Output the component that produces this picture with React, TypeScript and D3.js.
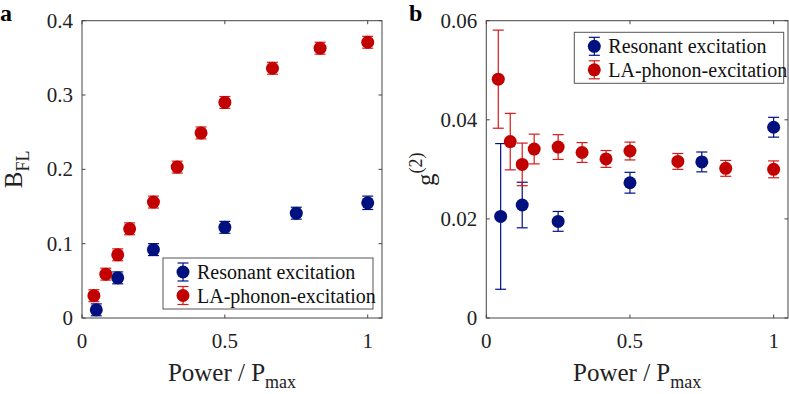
import { useEffect, useRef } from 'react';
import * as d3 from 'd3';

// x positions (Power / Pmax)
const laPower = [1 / 24, 1 / 12, 1 / 8, 1 / 6, 1 / 4, 1 / 3, 5 / 12, 1 / 2, 2 / 3, 5 / 6, 1];
const resPower = [0.05, 0.125, 0.25, 0.5, 0.75, 1];

// panel a: B_FL
const laBfl = [0.030, 0.059, 0.085, 0.120, 0.156, 0.203, 0.249, 0.290, 0.336, 0.363, 0.371];
const laBflErr = [0.008, 0.008, 0.008, 0.008, 0.008, 0.008, 0.008, 0.008, 0.008, 0.008, 0.008];
const resBfl = [0.011, 0.054, 0.092, 0.122, 0.141, 0.155];
const resBflErr = [0.008, 0.008, 0.008, 0.008, 0.008, 0.009];

// panel b: g2
const laG2 = [0.0482, 0.0356, 0.0310, 0.0341, 0.0345, 0.0334, 0.0321, 0.0337, 0.0316, 0.0302, 0.0300];
const laG2Err = [0.0099, 0.0057, 0.0043, 0.0030, 0.0025, 0.0020, 0.0017, 0.0018, 0.0016, 0.0016, 0.0017];
const resG2 = [0.0205, 0.0228, 0.0195, 0.0273, 0.0315, 0.0385];
const resG2Err = [0.0147, 0.0046, 0.0020, 0.0021, 0.0020, 0.0020];

const xTicks = [0, 0.5, 1];
const yTicksA = [0, 0.1, 0.2, 0.3, 0.4];
const yTicksB = [0, 0.02, 0.04, 0.06];
const legendNames = ['Resonant excitation', 'LA-phonon-excitation'];

const BLUE = '#00107f';
const RED = '#c30000';
const RED_BAR = '#d41a1a';
const FONT = 'Liberation Serif, DejaVu Serif, serif';

type Series = { x: number[]; y: number[]; e: number[]; color: string; bar: string };

function drawPanel(
  svg: d3.Selection<SVGSVGElement, unknown, null, undefined>,
  opts: {
    left: number; right: number; top: number; bottom: number;
    yMax: number; yTicks: number[]; yFmt: (v: number) => string;
    series: Series[]; letter: string; letterX: number;
    legend: { x: number; y: number; w: number; h: number };
    yLabel: 'B' | 'g';
  }
) {
  const x = d3.scaleLinear().domain([0, 1.05]).range([opts.left, opts.right]);
  const y = d3.scaleLinear().domain([0, opts.yMax]).range([opts.bottom, opts.top]);
  const g = svg.append('g').style('font-family', FONT);
  const axisColor = '#444';

  // box
  g.append('rect')
    .attr('x', opts.left).attr('y', opts.top)
    .attr('width', opts.right - opts.left).attr('height', opts.bottom - opts.top)
    .attr('fill', 'none').attr('stroke', axisColor).attr('stroke-width', 1);

  const tl = 3.5;
  xTicks.forEach(t => {
    const px = x(t);
    g.append('line').attr('x1', px).attr('x2', px).attr('y1', opts.bottom).attr('y2', opts.bottom - tl).attr('stroke', axisColor);
    g.append('line').attr('x1', px).attr('x2', px).attr('y1', opts.top).attr('y2', opts.top + tl).attr('stroke', axisColor);
    g.append('text').attr('x', px).attr('y', opts.bottom + 30)
      .attr('text-anchor', 'middle').attr('font-size', 21).attr('fill', '#222')
      .text(d3.format('~g')(t));
  });
  opts.yTicks.forEach(t => {
    const py = y(t);
    g.append('line').attr('x1', opts.left).attr('x2', opts.left + tl).attr('y1', py).attr('y2', py).attr('stroke', axisColor);
    g.append('line').attr('x1', opts.right).attr('x2', opts.right - tl).attr('y1', py).attr('y2', py).attr('stroke', axisColor);
    g.append('text').attr('x', opts.left - 9).attr('y', py + 7)
      .attr('text-anchor', 'end').attr('font-size', 21).attr('fill', '#222')
      .text(opts.yFmt(t));
  });

  // x label
  const xl = g.append('text').attr('x', (opts.left + opts.right) / 2).attr('y', 381)
    .attr('text-anchor', 'middle').attr('font-size', 25).attr('fill', '#222');
  xl.append('tspan').text('Power / P');
  xl.append('tspan').attr('font-size', 18).attr('dy', 7).text('max');

  // y label
  const cy = (opts.top + opts.bottom) / 2;
  const yl = g.append('text')
    .attr('transform', `translate(${opts.letterX + (opts.yLabel === 'B' ? 22 : 25)},${cy}) rotate(-90)`)
    .attr('text-anchor', 'middle').attr('font-size', 25).attr('fill', '#222');
  if (opts.yLabel === 'B') {
    yl.append('tspan').text('B');
    yl.append('tspan').attr('font-size', 18).attr('dy', 7).text('FL');
  } else {
    yl.append('tspan').text('g');
    yl.append('tspan').attr('font-size', 18).attr('dy', -12).text('(2)');
  }

  // panel letter
  g.append('text').attr('x', opts.letterX).attr('y', 21)
    .attr('font-weight', 'bold').attr('font-size', 24).attr('fill', '#000')
    .text(opts.letter);

  const cap = 5.5;
  opts.series.forEach(s => {
    s.x.forEach((xv, i) => {
      const px = x(xv);
      const y0 = y(s.y[i] - s.e[i]);
      const y1 = y(s.y[i] + s.e[i]);
      g.append('line').attr('x1', px).attr('x2', px).attr('y1', y0).attr('y2', y1).attr('stroke', s.bar).attr('stroke-width', 1.2);
      g.append('line').attr('x1', px - cap).attr('x2', px + cap).attr('y1', y0).attr('y2', y0).attr('stroke', s.bar).attr('stroke-width', 1.2);
      g.append('line').attr('x1', px - cap).attr('x2', px + cap).attr('y1', y1).attr('y2', y1).attr('stroke', s.bar).attr('stroke-width', 1.2);
      g.append('circle').attr('cx', px).attr('cy', y(s.y[i])).attr('r', 6.5).attr('fill', s.color);
    });
  });

  // legend
  const L = opts.legend;
  g.append('rect').attr('x', L.x).attr('y', L.y).attr('width', L.w).attr('height', L.h)
    .attr('fill', '#fff').attr('stroke', '#555').attr('stroke-width', 1);
  opts.series.forEach((s, i) => {
    const ly = L.y + 14 + i * 23.5;
    const lx = L.x + 20;
    g.append('line').attr('x1', lx).attr('x2', lx).attr('y1', ly - 9).attr('y2', ly + 9).attr('stroke', s.bar).attr('stroke-width', 1.2);
    g.append('line').attr('x1', lx - cap).attr('x2', lx + cap).attr('y1', ly - 9).attr('y2', ly - 9).attr('stroke', s.bar).attr('stroke-width', 1.2);
    g.append('line').attr('x1', lx - cap).attr('x2', lx + cap).attr('y1', ly + 9).attr('y2', ly + 9).attr('stroke', s.bar).attr('stroke-width', 1.2);
    g.append('circle').attr('cx', lx).attr('cy', ly).attr('r', 6.5).attr('fill', s.color);
    g.append('text').attr('x', L.x + 34).attr('y', ly + 7)
      .attr('font-size', 20).attr('fill', '#111')
      .text(legendNames[i]);
  });
}

export default function App() {
  const ref = useRef<SVGSVGElement>(null);

  useEffect(() => {
    if (!ref.current) return;
    const svg = d3.select(ref.current);
    svg.selectAll('*').remove();

    drawPanel(svg, {
      left: 82, right: 382, top: 20.7, bottom: 318,
      yMax: 0.4, yTicks: yTicksA, yFmt: d3.format('~g'),
      series: [
        { x: resPower, y: resBfl, e: resBflErr, color: BLUE, bar: BLUE },
        { x: laPower, y: laBfl, e: laBflErr, color: RED, bar: RED_BAR },
      ],
      letter: 'a', letterX: 0, yLabel: 'B',
      legend: { x: 163, y: 258, w: 210, h: 51 },
    });

    drawPanel(svg, {
      left: 486.3, right: 788, top: 20.7, bottom: 318,
      yMax: 0.06, yTicks: yTicksB, yFmt: v => (v === 0 ? '0' : d3.format('.2f')(v)),
      series: [
        { x: resPower, y: resG2, e: resG2Err, color: BLUE, bar: BLUE },
        { x: laPower, y: laG2, e: laG2Err, color: RED, bar: RED_BAR },
      ],
      letter: 'b', letterX: 409, yLabel: 'g',
      legend: { x: 574.3, y: 32.3, w: 209.4, h: 51 },
    });
  }, []);

  return (
    <svg
      ref={ref}
      width={789}
      height={394}
      style={{ position: 'absolute', left: 0, top: 0, background: '#fff' }}
    />
  );
}
